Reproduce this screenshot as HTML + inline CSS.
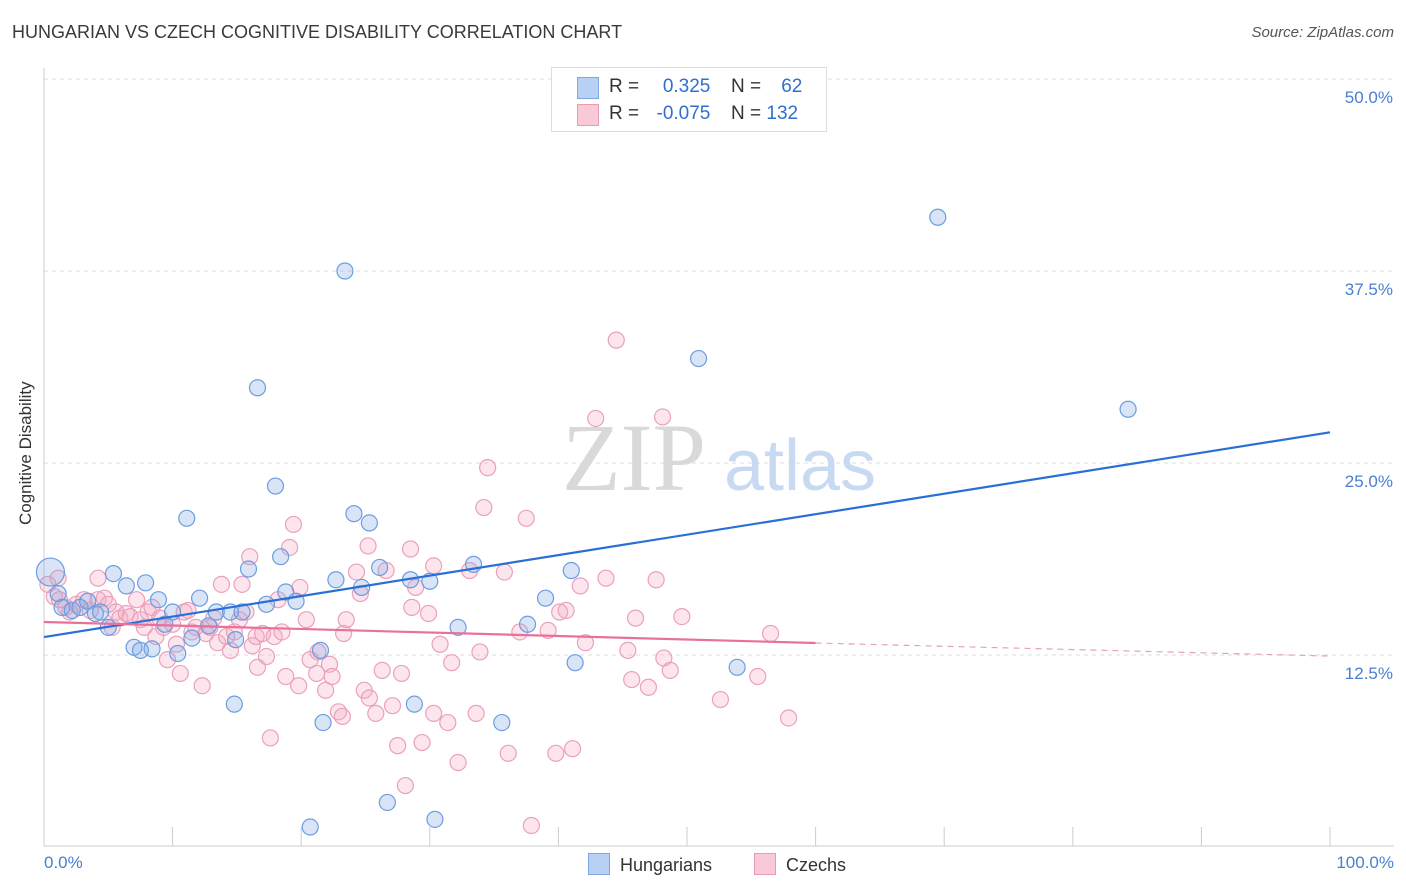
<!DOCTYPE html>
<html><head><meta charset="utf-8">
<style>
body{margin:0;background:#fff;font-family:"Liberation Sans",sans-serif;}
#wrap{position:relative;width:1406px;height:892px;overflow:hidden;}
.t{position:absolute;white-space:nowrap;}
</style></head>
<body>
<div id="wrap">
<div class="t" style="left:12px;top:22px;font-size:18px;color:#3a3a3a;">HUNGARIAN VS CZECH COGNITIVE DISABILITY CORRELATION CHART</div>
<div class="t" style="right:12px;top:24px;font-size:15px;color:#555;font-style:italic;">Source: ZipAtlas.com</div>
<svg id="svg" width="1406" height="892" style="position:absolute;left:0;top:0"></svg>
</div>
<script>
const bx=[0.5,1.1,1.4,2.2,2.8,3.4,4.0,4.4,5.0,5.4,6.4,7.0,7.5,7.9,8.4,8.9,9.4,10.0,10.4,11.1,11.5,12.1,12.8,13.4,14.5,14.9,15.4,15.9,14.8,16.6,17.3,18.0,18.4,18.8,19.6,20.7,21.5,21.7,22.7,23.4,24.1,24.7,25.3,26.1,26.7,28.5,28.8,30.0,30.4,32.2,33.4,35.6,37.6,39.0,41.0,41.3,50.9,53.9,69.5,84.3];
const by=[17.9,16.5,15.6,15.4,15.6,16.0,15.2,15.3,14.3,17.8,17.0,13.0,12.8,17.2,12.9,16.1,14.5,15.3,12.6,21.4,13.6,16.2,14.4,15.3,15.3,13.5,15.3,18.1,9.3,29.9,15.8,23.5,18.9,16.6,16.0,1.3,12.8,8.1,17.4,37.5,21.7,16.9,21.1,18.2,2.9,17.4,9.3,17.3,1.8,14.3,18.4,8.1,14.5,16.2,18.0,12.0,31.8,11.7,41.0,28.5];
const px=[0.3,0.8,1.2,1.7,2.0,2.5,3.1,3.6,4.2,4.2,4.7,5.0,5.3,5.6,5.9,6.4,6.7,7.2,7.5,7.8,8.1,8.4,8.7,9.0,9.3,9.6,10.0,10.3,10.6,10.9,11.2,11.5,11.8,12.3,12.6,12.9,13.2,13.5,13.8,14.2,14.5,14.8,15.2,15.4,15.7,16.0,16.2,16.5,16.6,17.0,17.3,17.6,17.9,18.2,18.5,18.8,19.1,19.4,19.8,19.9,20.4,20.7,21.2,21.3,21.9,22.2,22.4,22.9,23.2,23.3,23.5,24.3,24.6,24.9,25.2,25.3,25.8,26.3,26.6,27.1,27.5,27.8,28.5,28.6,28.9,29.4,29.9,30.3,30.3,30.8,31.4,31.7,32.2,33.1,33.6,33.9,34.2,34.5,35.8,36.1,37.0,37.5,37.9,39.2,39.8,40.1,40.6,41.1,41.7,42.1,42.9,43.7,44.5,45.4,45.7,46.0,47.0,47.6,48.1,48.2,48.7,49.6,52.6,55.5,56.5,57.9,28.1,1.1];
const py=[17.1,16.3,16.1,15.6,15.3,15.8,16.1,15.4,17.5,16.1,16.2,15.8,14.3,15.3,14.9,15.2,15.0,16.1,14.8,14.3,15.3,15.6,13.7,14.9,14.3,12.2,14.5,13.2,11.3,15.3,15.4,14.0,14.3,10.5,13.9,14.3,14.9,13.3,17.1,13.7,12.8,14.0,14.8,17.1,15.3,18.9,13.1,13.7,11.7,13.9,12.4,7.1,13.7,16.1,14.0,11.1,19.5,21.0,10.5,16.9,14.8,12.2,11.3,12.7,10.2,11.9,11.1,8.8,8.5,13.9,14.8,17.9,16.5,10.2,19.6,9.7,8.7,11.5,18.0,9.2,6.6,11.3,19.4,15.6,16.9,6.8,15.2,18.3,8.7,13.2,8.1,12.0,5.5,18.0,8.7,12.7,22.1,24.7,17.9,6.1,14.0,21.4,1.4,14.1,6.1,15.3,15.4,6.4,17.0,13.3,27.9,17.5,33.0,12.8,10.9,14.9,10.4,17.4,28.0,12.3,11.5,15.0,9.6,11.1,13.9,8.4,4.0,17.5];
const yTicks=[12.5,25.0,37.5,50.0];
const blueTrend=[13.67,27.0];
const pinkTrend=[14.65,13.28,12.43];
const X=v=>44+v*12.86, Y=v=>847-v*15.36;
const svg=document.getElementById('svg');const NS='http://www.w3.org/2000/svg';
function mk(t,a){const e=document.createElementNS(NS,t);for(const k in a)e.setAttribute(k,a[k]);svg.appendChild(e);return e;}
// grid
yTicks.forEach(v=>{const l=mk('line',{x1:44,x2:1394,y1:Y(v),y2:Y(v),stroke:'#ddd','stroke-dasharray':'4,4'});


const t=mk('text',{x:1393,y:Y(v)+24,'text-anchor':'end','font-size':17,fill:'#4a7fd0','font-family':'Liberation Sans'});t.textContent=v.toFixed(1)+'%';

});
mk('line',{x1:44,x2:44,y1:68,y2:846,stroke:'#ccc'});
mk('line',{x1:44,x2:1394,y1:846,y2:846,stroke:'#ccc'});
for(let i=1;i<=10;i++){const t=mk('line',{x1:X(i*10),x2:X(i*10),y1:827,y2:846,stroke:'#ccc'});

}
// watermark
const w1=mk('text',{x:634,y:490,'text-anchor':'middle','font-size':96,fill:'#d9d9d9','font-family':'Liberation Serif'});w1.textContent='ZIP';


const w2=mk('text',{x:800,y:490,'text-anchor':'middle','font-size':72,fill:'#c8daf2','font-family':'Liberation Sans'});w2.textContent='atlas';


// points
px.forEach((v,i)=>{const c=mk('circle',{cx:X(v),cy:Y(py[i]),r:8,fill:'rgba(244,170,196,0.3)',stroke:'#eba0bb','stroke-width':1.2});

});
bx.forEach((v,i)=>{const c=mk('circle',{cx:X(v),cy:Y(by[i]),r:i==0?14:8,fill:'rgba(130,170,230,0.3)',stroke:'#6c9de0','stroke-width':1.2});

});
const bl=mk('line',{x1:X(0),y1:Y(blueTrend[0]),x2:X(100),y2:Y(blueTrend[1]),stroke:'#2a6fd6','stroke-width':2.2});


const pl=mk('line',{x1:X(0),y1:Y(pinkTrend[0]),x2:X(60),y2:Y(pinkTrend[1]),stroke:'#e8719a','stroke-width':2.2});


const pd=mk('line',{x1:X(60),y1:Y(pinkTrend[1]),x2:X(100),y2:Y(pinkTrend[2]),stroke:'#e8a0b8','stroke-width':1.2,'stroke-dasharray':'6,5'});


</script>
<div class="t" style="left:-44px;top:445px;font-size:17px;color:#333;transform:rotate(-90deg);width:140px;text-align:center;">Cognitive Disability</div>
<div class="t" style="left:44px;top:853px;font-size:17px;color:#4a7fd0;">0.0%</div>
<div class="t" style="right:12px;top:853px;font-size:17px;color:#4a7fd0;">100.0%</div>
<div style="position:absolute;left:551px;top:67px;width:274px;height:63px;border:1px solid #ddd;background:#fff;font-size:19px;">
<div style="position:absolute;left:25px;top:9px;width:20px;height:20px;background:#b7d0f4;border:1px solid #7ea6e0;"></div>
<div style="position:absolute;left:25px;top:36px;width:20px;height:20px;background:#f9c9d8;border:1px solid #ea9bb6;"></div>
<div class="t" style="left:57px;top:8px;color:#333;">R = <span style="color:#2f6fd0;display:inline-block;width:66px;text-align:right;">0.325</span></div>
<div class="t" style="left:57px;top:35px;color:#333;">R = <span style="color:#2f6fd0;display:inline-block;width:66px;text-align:right;">-0.075</span></div>
<div class="t" style="left:179px;top:8px;color:#333;">N = <span style="color:#2f6fd0;display:inline-block;width:36px;text-align:right;">62</span></div>
<div class="t" style="left:179px;top:35px;color:#333;">N = <span style="color:#2f6fd0;">132</span></div>
</div>
<div style="position:absolute;left:588px;top:853px;font-size:18px;color:#333;">
<span style="display:inline-block;width:20px;height:20px;background:#b7d0f4;border:1px solid #7ea6e0;vertical-align:-4px;margin-right:10px;"></span>Hungarians</div>
<div style="position:absolute;left:754px;top:853px;font-size:18px;color:#333;">
<span style="display:inline-block;width:20px;height:20px;background:#f9c9d8;border:1px solid #ea9bb6;vertical-align:-4px;margin-right:10px;"></span>Czechs</div>
</body></html>
